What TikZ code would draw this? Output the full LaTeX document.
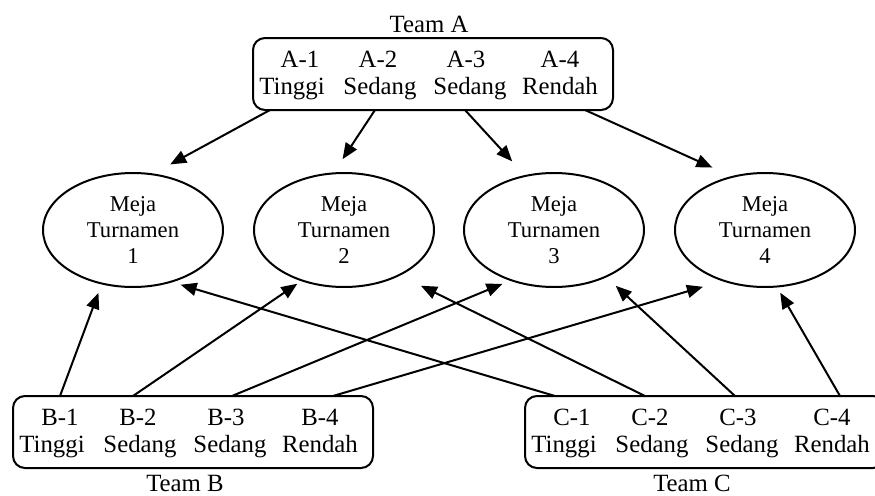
\documentclass[tikz,border=0pt]{standalone}
\usepackage{fontspec}
\setmainfont{Liberation Serif}
\usetikzlibrary{arrows.meta,shapes.geometric}

\begin{document}
\begin{tikzpicture}[x=0.5pt,y=0.5pt,
  timbox/.style={draw,line width=1pt,rounded corners=6pt,minimum width=180pt,minimum height=36pt,inner sep=0pt},
  teks/.style={inner sep=0pt,anchor=base,font=\fontsize{12.4}{14}\selectfont},
  meja/.style={draw,ellipse,line width=1pt,minimum width=90pt,minimum height=57pt,inner sep=0pt,align=center,font=\fontsize{11.3}{13}\selectfont},
  pil/.style={draw,line width=1pt,-{Triangle[length=8pt,width=6.5pt]}}]
\clip (0,0) rectangle (875,495);
\newcommand\tim[4]{
\node[timbox] (#1) at (#3+180,#4-36) {};
\node[teks] (#1-k1) at (#3+47,#4-29) {#2-1};
\node[teks] (#1-k2) at (#3+125,#4-29) {#2-2};
\node[teks] (#1-k3) at (#3+213,#4-29) {#2-3};
\node[teks] (#1-k4) at (#3+307,#4-29) {#2-4};
\node[teks] (#1-t1) at (#3+39,#4-56) {Tinggi};
\node[teks] (#1-t2) at (#3+127,#4-56) {Sedang};
\node[teks] (#1-t3) at (#3+217,#4-56) {Sedang};
\node[teks] (#1-t4) at (#3+307,#4-56) {Rendah};
}
\tim{timA}{A}{253}{457}
\tim{timB}{B}{13}{99}
\tim{timC}{C}{525}{99}
\node[teks] (namaA) at (429,463) {Team A};
\node[teks] (namaB) at (185,4) {Team B};
\node[teks] (namaC) at (692,4) {Team C};
\node[meja] (m1) at (133,265) {Meja\\Turnamen\\1};
\node[meja] (m2) at (344,265) {Meja\\Turnamen\\2};
\node[meja] (m3) at (554,265) {Meja\\Turnamen\\3};
\node[meja] (m4) at (765,265) {Meja\\Turnamen\\4};
\coordinate (a1) at (270,385);
\coordinate (a2) at (375,385);
\coordinate (a3) at (465,385);
\coordinate (a4) at (585,385);
\coordinate (b1) at (60,99);
\coordinate (b2) at (133,99);
\coordinate (b3) at (232,99);
\coordinate (b4) at (333,99);
\coordinate (c1) at (555,99);
\coordinate (c2) at (645,99);
\coordinate (c3) at (735,99);
\coordinate (c4) at (840,99);
\path[pil,shorten >=9.5pt] (a1) -- (m1.70);
\path[pil,shorten >=7.9pt] (a2) -- (m2.100);
\path[pil,shorten >=9.3pt] (a3) -- (m3.118);
\path[pil,shorten >=10.4pt] (a4) -- (m4.122);
\path[pil,shorten >=4.5pt] (b1) -- (m1.240);
\path[pil,shorten >=2.3pt] (b2) -- (m2.230);
\path[pil,shorten >=4pt] (b3) -- (m3.229);
\path[pil,shorten >=10pt] (b4) -- (m4.230);
\path[pil,shorten >=4.3pt] (c1) -- (m1.307);
\path[pil,shorten >=11.5pt] (c2) -- (m2.321);
\path[pil,shorten >=6.2pt] (c3) -- (m3.318);
\path[pil,shorten >=3pt] (c4) -- (m4.282);
\end{tikzpicture}
\end{document}
